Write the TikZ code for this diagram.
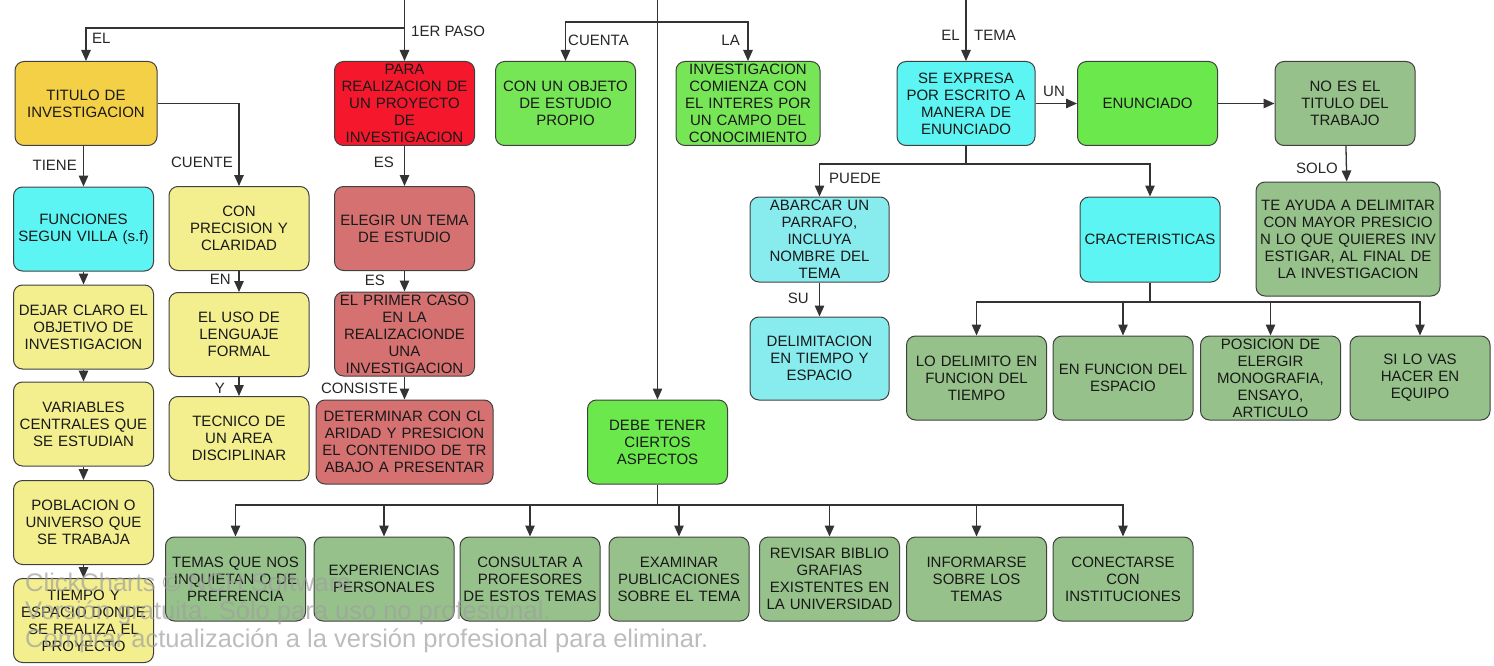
\documentclass[tikz,border=0pt]{standalone}
\usepackage{fontspec}
\setmainfont{Liberation Sans}
\usepackage{tikz}
\usetikzlibrary{arrows.meta}
\definecolor{oro}{HTML}{F4D046}
\definecolor{rojo}{HTML}{F5182D}
\definecolor{verde}{HTML}{77E656}
\definecolor{verdeb}{HTML}{6BE84B}
\definecolor{cian}{HTML}{5DF5F3}
\definecolor{cianc}{HTML}{88ECEF}
\definecolor{amar}{HTML}{F3EF8F}
\definecolor{rosa}{HTML}{D67171}
\definecolor{oliva}{HTML}{96C18A}
\definecolor{marca}{HTML}{A0A0A0}

\begin{document}
\begin{tikzpicture}[x=1pt,y=-1pt,>={Triangle[length=11pt,width=9.5pt]}]
    \tikzstyle{caja} = [draw=black!75, line width=1pt, rounded corners=9pt, align=center, inner sep=0pt,
        minimum width=140pt, minimum height=84pt, text width=138pt, font=\fontsize{15}{17}\selectfont, text=black!90]
    \tikzstyle{linea} = [draw=black!80, line width=1.3pt]
    \tikzstyle{flecha} = [linea, ->]
    \tikzstyle{rotulo} = [font=\fontsize{15}{17}\selectfont, text=black!85, inner sep=1pt]
    \useasboundingbox (0,0) rectangle (1494,666);

    % primera fila
    \node[caja, fill=oro, minimum width=142pt] (tit) at (86,103.5) {TITULO DE\\INVESTIGACION};
    \node[caja, fill=rojo] (par) at (404.5,103.5) {PARA\\REALIZACION DE\\UN PROYECTO\\DE\\INVESTIGACION};
    \node[caja, fill=verde] (obj) at (565.5,103.5) {CON UN OBJETO\\DE ESTUDIO\\PROPIO};
    \node[caja, fill=verde, minimum width=144pt] (inv) at (748,103.5) {INVESTIGACION\\COMIENZA CON\\EL INTERES POR\\UN CAMPO DEL\\CONOCIMIENTO};
    \node[caja, fill=cian, minimum width=138pt, text width=136pt] (exp) at (966,103.5) {SE EXPRESA\\POR ESCRITO A\\MANERA DE\\ENUNCIADO};
    \node[caja, fill=verdeb] (enu) at (1147.5,103.5) {ENUNCIADO};
    \node[caja, fill=oliva] (noes) at (1345,103.5) {NO ES EL\\TITULO DEL\\TRABAJO};

    % columna izquierda
    \node[caja, fill=cian] (fun) at (83.5,229) {FUNCIONES\\SEGUN VILLA (s.f)};
    \node[caja, fill=amar] (dej) at (83.5,327) {DEJAR CLARO EL\\OBJETIVO DE\\INVESTIGACION};
    \node[caja, fill=amar] (var) at (83.5,424) {VARIABLES\\CENTRALES QUE\\SE ESTUDIAN};
    \node[caja, fill=amar] (pob) at (83.5,522.5) {POBLACION O\\UNIVERSO QUE\\SE TRABAJA};
    \node[caja, fill=amar] (tie) at (83.5,620.5) {TIEMPO Y\\ESPACIO DONDE\\SE REALIZA EL\\PROYECTO};

    % segunda y tercera columna
    \node[caja, fill=amar] (pre) at (239,228.5) {CON\\PRECISION Y\\CLARIDAD};
    \node[caja, fill=amar] (uso) at (239,334.5) {EL USO DE\\LENGUAJE\\FORMAL};
    \node[caja, fill=amar] (tec) at (239,438.5) {TECNICO DE\\UN AREA\\DISCIPLINAR};
    \node[caja, fill=rosa] (ele) at (404.5,228.5) {ELEGIR UN TEMA\\DE ESTUDIO};
    \node[caja, fill=rosa] (pri) at (404.5,334) {EL PRIMER CASO\\EN LA\\REALIZACIONDE\\UNA\\INVESTIGACION};
    \node[caja, fill=rosa, minimum width=177pt, text width=175pt] (det) at (404.5,442) {DETERMINAR CON CL\\ARIDAD Y PRESICION\\EL CONTENIDO DE TR\\ABAJO A PRESENTAR};
    \node[caja, fill=verdeb] (debe) at (657.5,442) {DEBE TENER\\CIERTOS\\ASPECTOS};

    % lado derecho
    \node[caja, fill=cianc, minimum width=139pt, minimum height=85pt] (aba) at (819.5,239.5) {ABARCAR UN\\PARRAFO,\\INCLUYA\\NOMBRE DEL\\TEMA};
    \node[caja, fill=cianc, minimum width=139pt, minimum height=83pt] (del) at (819.5,358.5) {DELIMITACION\\EN TIEMPO Y\\ESPACIO};
    \node[caja, fill=cian, minimum height=85pt] (car) at (1150,239.5) {CRACTERISTICAS};
    \node[caja, fill=oliva, minimum width=184pt, text width=182pt, minimum height=114pt] (ayu) at (1348,239) {TE AYUDA A DELIMITAR\\CON MAYOR PRESICIO\\N LO QUE QUIERES INV\\ESTIGAR, AL FINAL DE\\LA INVESTIGACION};
    \node[caja, fill=oliva] (lod) at (976.5,378) {LO DELIMITO EN\\FUNCION DEL\\TIEMPO};
    \node[caja, fill=oliva] (efe) at (1123,378) {EN FUNCION DEL\\ESPACIO};
    \node[caja, fill=oliva] (pos) at (1270.5,378) {POSICION DE\\ELERGIR\\MONOGRAFIA,\\ENSAYO,\\ARTICULO};
    \node[caja, fill=oliva] (sil) at (1420,378) {SI LO VAS\\HACER EN\\EQUIPO};

    % fila de abajo
    \node[caja, fill=oliva] (tem) at (235.5,579) {TEMAS QUE NOS\\INQUIETAN O DE\\PREFRENCIA};
    \node[caja, fill=oliva] (expe) at (384,579) {EXPERIENCIAS\\PERSONALES};
    \node[caja, fill=oliva] (con) at (530,579) {CONSULTAR A\\PROFESORES\\DE ESTOS TEMAS};
    \node[caja, fill=oliva] (exa) at (679,579) {EXAMINAR\\PUBLICACIONES\\SOBRE EL TEMA};
    \node[caja, fill=oliva] (rev) at (829.5,579) {REVISAR BIBLIO\\GRAFIAS\\EXISTENTES EN\\LA UNIVERSIDAD};
    \node[caja, fill=oliva] (infm) at (976.5,579) {INFORMARSE\\SOBRE LOS\\TEMAS};
    \node[caja, fill=oliva] (cnx) at (1123,579) {CONECTARSE\\CON\\INSTITUCIONES};

    % conectores de arriba
    \coordinate (topA) at (404.5,0);
    \coordinate (topB) at (657.5,0);
    \coordinate (topC) at (966,0);
    \coordinate (busA) at (404.5,28);
    \coordinate (busB) at (657.5,22);
    \draw[flecha] (topA) -- (par);
    \draw[flecha] (busA) -| (tit);
    \draw[flecha] (topB) -- (debe);
    \draw[flecha] (busB) -| (obj);
    \draw[flecha] (busB) -| (inv);
    \draw[flecha] (topC) -- (exp);

    % conectores de las columnas
    \draw[flecha] (tit.south -| fun) -- (fun);
    \draw[flecha] (tit) -| (pre);
    \foreach \a/\b in {fun/dej, dej/var, var/pob, pob/tie, pre/uso, uso/tec, par/ele, ele/pri, pri/det} {
        \draw[flecha] (\a) -- (\b);
    }

    % conectores de la derecha
    \coordinate (busE) at (966,164);
    \draw[linea] (exp) -- (busE);
    \draw[flecha] (busE) -| (aba);
    \draw[flecha] (busE) -| (car);
    \draw[flecha] (aba) -- (del);
    \draw[flecha] (exp) -- (enu);
    \draw[flecha] (enu) -- (noes);
    \draw[flecha] (noes) -- (ayu);
    \coordinate (busD) at (1150,302);
    \draw[linea] (car) -- (busD);
    \foreach \n in {lod, efe, pos, sil} {
        \draw[flecha] (busD) -| (\n);
    }
    \coordinate (busF) at (657.5,505);
    \draw[linea] (debe) -- (busF);
    \foreach \n in {tem, expe, con, exa, rev, infm, cnx} {
        \draw[flecha] (busF) -| (\n);
    }

    % rotulos
    \node[rotulo, anchor=west] (rEl) at (91,38) {EL};
    \node[rotulo, anchor=west] (rPaso) at (410,31) {1ER PASO};
    \node[rotulo, anchor=west] (rCuenta) at (567,40) {CUENTA};
    \node[rotulo, anchor=east] (rLa) at (741,40) {LA};
    \node[rotulo, anchor=east] (rElT) at (961,35) {EL};
    \node[rotulo, anchor=west] (rTema) at (973,35) {TEMA};
    \node[rotulo, anchor=east] (rTiene) at (78,165) {TIENE};
    \node[rotulo, anchor=east] (rCuente) at (234,162) {CUENTE};
    \node[rotulo, anchor=east] (rEs) at (395,162) {ES};
    \node[rotulo, anchor=east] (rEn) at (232,279) {EN};
    \node[rotulo, anchor=east] (rEsB) at (386,280) {ES};
    \node[rotulo, anchor=east] (rY) at (226,388) {Y};
    \node[rotulo, anchor=east] (rConsiste) at (399,388) {CONSISTE};
    \node[rotulo] (rUn) at (1054,91) {UN};
    \node[rotulo, anchor=west] (rPuede) at (828,178) {PUEDE};
    \node[rotulo, anchor=east] (rSu) at (810,298) {SU};
    \node[rotulo, anchor=east] (rSolo) at (1339,168) {SOLO};

    % marca de agua
    \foreach \t/\y in {ClickCharts © NCH Software/591, Versión gratuita. Sólo para uso no profesional./619, Comprar actualización a la versión profesional para eliminar./647} {
        \node[anchor=base west, inner sep=0pt, text=marca, opacity=0.7, font=\fontsize{25.5}{28}\selectfont] at (25,\y) {\t};
    }
\end{tikzpicture}
\end{document}
